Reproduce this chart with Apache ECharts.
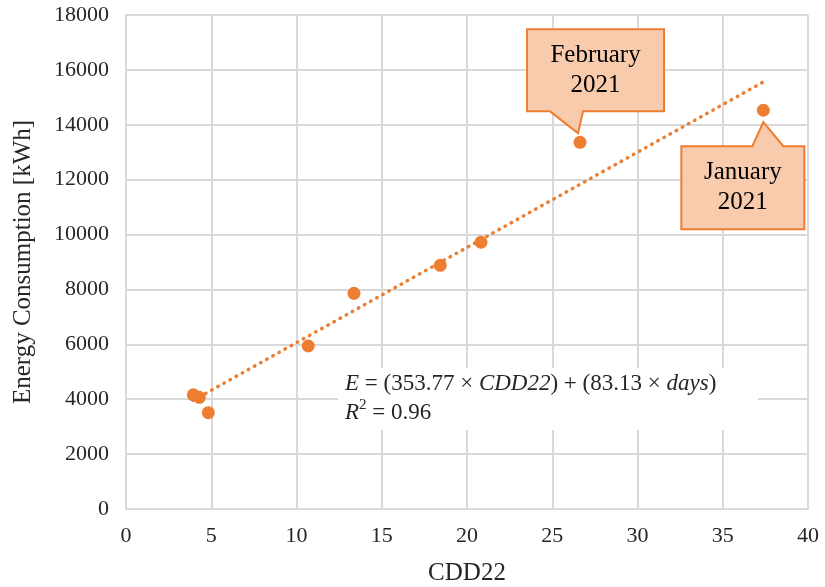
<!DOCTYPE html>
<html><head><meta charset="utf-8">
<script src="https://cdn.jsdelivr.net/npm/echarts@6/dist/echarts.min.js"></script>
<style>html,body{margin:0;padding:0;background:#fff}#c{width:825px;height:587px}</style>
</head><body><div id="c"></div>
<script>
const cdd = [3.95, 4.30, 4.83, 10.69, 13.37, 18.43, 20.82, 26.63, 37.38];
const energy = [4160, 4070, 3510, 5940, 7860, 8880, 9720, 13360, 14530];
const xTicks = [0, 40, 5];
const yTicks = [0, 18000, 2000];
const callouts = [
  {idx: 7, text: 'February\n2021'},
  {idx: 8, text: 'January\n2021'}
];

// least-squares trendline
const n = cdd.length;
const mx = cdd.reduce((a,b)=>a+b,0)/n, my = energy.reduce((a,b)=>a+b,0)/n;
let sxy=0, sxx=0;
for (let i=0;i<n;i++){ sxy+=(cdd[i]-mx)*(energy[i]-my); sxx+=(cdd[i]-mx)**2; }
const slope = sxy/sxx, icpt = my - slope*mx;
const xmin = Math.min(...cdd), xmax = Math.max(...cdd);
const trend = [[xmin, icpt+slope*xmin],[xmax, icpt+slope*xmax]];

const ORANGE = '#ED7D31', FILL = '#F8CBAD', GRID = '#D9D9D9', TXT = '#262626';
const FONT = '"Liberation Serif", "Times New Roman", serif';
const chart = echarts.init(document.getElementById('c'));
chart.setOption({
  animation: false,
  grid: {left: 126, right: 17, top: 15, bottom: 78, containLabel: false, outerBoundsMode: 'none'},
  xAxis: {
    type: 'value', min: xTicks[0], max: xTicks[1], interval: xTicks[2],
    name: 'CDD22', nameLocation: 'middle', nameGap: 52,
    nameTextStyle: {fontFamily: FONT, fontSize: 25, color: TXT},
    axisLine: {lineStyle: {color: GRID, width: 2}}, axisTick: {show: false},
    axisLabel: {fontFamily: FONT, fontSize: 22, color: TXT, margin: 16, formatter: v => String(v)},
    splitLine: {lineStyle: {color: GRID, width: 2}}
  },
  yAxis: {
    type: 'value', min: yTicks[0], max: yTicks[1], interval: yTicks[2],
    name: 'Energy Consumption [kWh]', nameLocation: 'middle', nameGap: 90,
    nameTextStyle: {fontFamily: FONT, fontSize: 25, color: TXT},
    axisLine: {show: true, lineStyle: {color: GRID, width: 2}}, axisTick: {show: false},
    axisLabel: {fontFamily: FONT, fontSize: 22, color: TXT, margin: 17, formatter: v => String(v)},
    splitLine: {lineStyle: {color: GRID, width: 2}}
  },
  series: [
    {type: 'line', data: trend, showSymbol: false, symbol: 'none', z: 2,
     lineStyle: {color: ORANGE, width: 3.5, type: [0.5, 6.5], cap: 'round'}},
    {type: 'scatter', data: cdd.map((x,i)=>[x, energy[i]]), symbolSize: 13, z: 3,
     itemStyle: {color: ORANGE, opacity: 1}}
  ]
});

function drawAnnotations(){
  const els = [];
  const f = chart.convertToPixel({gridIndex:0}, [cdd[callouts[0].idx], energy[callouts[0].idx]]);
  {
    const L=f[0]-53, R=f[0]+84, T=f[1]-113, B=f[1]-31;
    els.push({type:'polygon', z:10, shape:{points:[[L,T],[R,T],[R,B],[f[0]+3,B],[f[0]-2,f[1]-9],[f[0]-30,B],[L,B]]},
      style:{fill:FILL, stroke:ORANGE, lineWidth:2}});
    els.push({type:'text', z:11, x:(L+R)/2, y:(T+B)/2, style:{text:callouts[0].text, fontFamily:FONT, fontSize:25, lineHeight:30, fill:'#000', align:'center', verticalAlign:'middle'}});
  }
  const j = chart.convertToPixel({gridIndex:0}, [cdd[callouts[1].idx], energy[callouts[1].idx]]);
  {
    const L=j[0]-82, R=j[0]+41, T=j[1]+36, B=j[1]+119;
    els.push({type:'polygon', z:10, shape:{points:[[L,T],[j[0]-11,T],[j[0],j[1]+12],[j[0]+20,T],[R,T],[R,B],[L,B]]},
      style:{fill:FILL, stroke:ORANGE, lineWidth:2}});
    els.push({type:'text', z:11, x:(L+R)/2, y:(T+B)/2, style:{text:callouts[1].text, fontFamily:FONT, fontSize:25, lineHeight:30, fill:'#000', align:'center', verticalAlign:'middle'}});
  }
  els.push({type:'rect', z:8, shape:{x:338, y:368, width:420, height:62}, style:{fill:'#fff'}});
  els.push({type:'text', z:9, x:345, y:369, style:{
    text:'{i|E} = (353.77 × {i|CDD22}) + (83.13 × {i|days})\n{i|R}{s|2} = 0.96',
    fontFamily:FONT, fontSize:23, lineHeight:29, fill:TXT,
    rich:{i:{fontStyle:'italic', fontFamily:FONT, fontSize:23, fill:TXT, lineHeight:29},
          s:{fontFamily:FONT, fontSize:15, fill:TXT, verticalAlign:'top', lineHeight:29, padding:[0,0,6,0]}}
  }});
  chart.setOption({graphic: els});
}
drawAnnotations();
</script></body></html>
